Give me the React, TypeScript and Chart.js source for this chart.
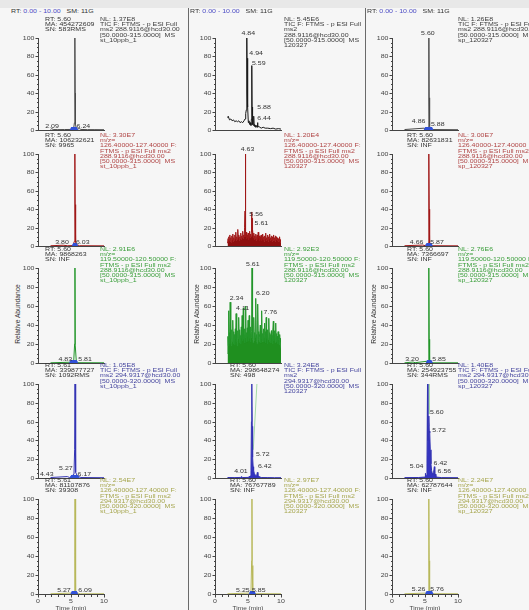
import React, { useEffect, useRef } from 'react';
import { Chart, registerables } from 'chart.js';
Chart.register(...registerables);

type Pt = [number, number];
type Peak = [string, number, number];

// ---------------- DATA ----------------
const Y_TICKS = [0, 20, 40, 60, 80, 100];
const X_TICKS = [0, 1, 2, 3, 4, 5, 6, 7, 8, 9, 10];
const X_LABELS = [0, 5, 10];

// column 1: st_10ppb_1
const c1r1Trace: Pt[] = [[1.9,0.6],[2.09,1.5],[2.3,0.5],[3,0.4],[4,0.5],[5,0.6],[5.4,1.5],[5.52,8],[5.57,45],[5.6,100],[5.63,40],[5.68,6],[5.8,2],[6.0,1],[6.24,1.6],[6.5,0.6],[7.5,0.4],[8.5,0.4],[10,0.3]];
const c1r2Trace: Pt[] = [[1.9,0.3],[3.8,0.8],[4.5,0.3],[5.3,0.5],[5.5,5],[5.57,50],[5.6,100],[5.63,45],[5.7,4],[5.9,0.8],[6.03,1],[6.3,0.3],[10,0.2]];
const c1r3Trace: Pt[] = [[1.9,0.2],[4.83,0.8],[5.4,0.5],[5.55,20],[5.6,100],[5.65,18],[5.81,1],[6.2,0.3],[10,0.2]];
const c1r4Trace: Pt[] = [[1.9,0.5],[4.43,1.5],[4.8,0.5],[5.27,3],[5.45,4],[5.55,30],[5.61,100],[5.66,25],[5.75,6],[5.9,3],[6.17,1.5],[6.5,0.5],[10,0.3]];
const c1r5Trace: Pt[] = [[1.9,0.2],[5.27,1],[5.5,3],[5.57,40],[5.61,100],[5.65,35],[5.75,2],[6.09,0.8],[6.4,0.2],[10,0.2]];

// column 2: 120327
const c2r1Trace: Pt[] = [[1.95,13],[2.0,15],[2.2,11],[2.4,12],[2.6,10],[2.8,11],[3.0,9],[3.2,10],[3.4,9],[3.6,10],[3.8,8],[4.0,9],[4.2,8],[4.4,10],[4.55,12],[4.65,18],[4.75,22],[4.8,35],[4.84,100],[4.88,40],[4.91,30],[4.94,78],[4.98,25],[5.05,8],[5.15,10],[5.25,6],[5.35,8],[5.45,5],[5.52,12],[5.56,20],[5.59,70],[5.62,25],[5.66,8],[5.72,6],[5.8,5],[5.85,10],[5.88,15],[5.92,6],[6.0,4],[6.1,5],[6.2,3],[6.3,4],[6.38,5],[6.44,8],[6.5,3],[6.6,4],[6.8,3],[7.0,2],[7.3,3],[7.6,2],[8.0,2],[8.4,1.5],[8.8,2],[9.2,1],[9.6,1.5],[10.0,1]];
const c2r2Trace: Pt[] = [[1.90,3],[1.98,8],[2.05,4],[2.12,10],[2.18,6],[2.25,12],[2.32,5],[2.40,9],[2.48,4],[2.55,11],[2.62,7],[2.70,13],[2.78,5],[2.85,9],[2.92,6],[3.00,12],[3.08,8],[3.15,15],[3.22,6],[3.30,10],[3.38,7],[3.45,18],[3.52,9],[3.60,12],[3.68,6],[3.75,10],[3.82,8],[3.90,14],[3.98,7],[4.05,11],[4.12,9],[4.20,16],[4.28,8],[4.35,12],[4.42,10],[4.48,20],[4.55,38],[4.59,12],[4.63,100],[4.67,10],[4.72,15],[4.80,8],[4.88,12],[4.95,9],[5.02,14],[5.10,7],[5.18,11],[5.25,16],[5.32,9],[5.40,13],[5.48,10],[5.56,37],[5.58,15],[5.61,30],[5.65,12],[5.72,18],[5.80,9],[5.88,14],[5.95,7],[6.02,11],[6.10,8],[6.18,13],[6.25,6],[6.32,10],[6.40,12],[6.48,7],[6.55,15],[6.62,9],[6.70,11],[6.78,6],[6.85,10],[6.92,8],[7.00,12],[7.08,6],[7.15,9],[7.22,13],[7.30,7],[7.38,10],[7.45,5],[7.52,11],[7.60,8],[7.68,14],[7.75,6],[7.82,9],[7.90,7],[7.98,12],[8.05,5],[8.12,10],[8.20,8],[8.28,13],[8.35,6],[8.42,9],[8.50,7],[8.58,11],[8.65,5],[8.72,10],[8.80,6],[8.88,12],[8.95,7],[9.02,9],[9.10,5],[9.18,11],[9.25,8],[9.32,10],[9.40,6],[9.48,9],[9.55,5],[9.62,8],[9.70,6],[9.78,10],[9.85,4],[9.92,7],[10.0,3]];
const c2r3Trace: Pt[] = [[1.90,10],[1.96,28],[2.02,18],[2.08,55],[2.13,22],[2.19,32],[2.25,20],[2.30,64],[2.36,25],[2.42,30],[2.48,18],[2.54,35],[2.60,22],[2.66,28],[2.72,45],[2.78,20],[2.84,33],[2.90,24],[2.96,30],[3.02,19],[3.08,36],[3.14,25],[3.20,52],[3.26,22],[3.32,30],[3.38,18],[3.44,34],[3.50,26],[3.56,31],[3.62,48],[3.68,21],[3.74,35],[3.80,24],[3.86,29],[3.92,20],[3.98,38],[4.04,26],[4.11,50],[4.17,23],[4.23,33],[4.29,58],[4.35,25],[4.41,30],[4.47,21],[4.53,36],[4.59,27],[4.65,60],[4.71,24],[4.77,32],[4.83,22],[4.89,37],[4.95,28],[5.01,45],[5.07,23],[5.13,34],[5.19,50],[5.25,26],[5.31,31],[5.37,22],[5.43,38],[5.49,27],[5.55,33],[5.61,100],[5.66,25],[5.72,30],[5.78,21],[5.84,36],[5.90,48],[5.96,24],[6.02,32],[6.08,27],[6.14,35],[6.20,68],[6.26,23],[6.32,30],[6.38,20],[6.44,37],[6.50,62],[6.56,25],[6.62,33],[6.68,22],[6.74,30],[6.80,28],[6.86,40],[6.92,21],[6.98,34],[7.04,25],[7.10,55],[7.16,23],[7.22,31],[7.28,26],[7.34,36],[7.40,22],[7.46,29],[7.52,42],[7.58,24],[7.64,33],[7.70,21],[7.76,48],[7.82,26],[7.88,30],[7.94,20],[8.00,35],[8.06,25],[8.12,28],[8.18,47],[8.24,22],[8.30,32],[8.36,24],[8.42,30],[8.48,21],[8.54,34],[8.60,26],[8.66,29],[8.72,20],[8.78,33],[8.84,44],[8.90,23],[8.96,30],[9.02,25],[9.08,34],[9.14,21],[9.20,42],[9.26,24],[9.32,31],[9.38,22],[9.44,28],[9.50,20],[9.56,33],[9.62,25],[9.68,29],[9.74,19],[9.80,30],[9.86,22],[9.92,26],[10.0,15]];
const c2r4Trace: Pt[] = [[1.9,0.5],[3.0,0.4],[3.9,0.6],[4.01,1.5],[4.2,0.5],[5.0,0.6],[5.35,2],[5.45,8],[5.52,60],[5.56,98],[5.6,100],[5.64,55],[5.68,35],[5.72,22],[5.78,12],[5.85,8],[5.95,5],[6.1,3],[6.3,2],[6.42,6],[6.5,2],[7.0,0.5],[8.0,0.4],[9.0,0.3],[10.0,0.3]];
const c2r4Overlay: Pt[] = [[5.8,30],[6.35,100]];
const c2r5Trace: Pt[] = [[1.9,0.2],[5.25,1],[5.45,2],[5.55,35],[5.6,100],[5.64,30],[5.72,2],[5.85,1],[6.2,0.3],[10,0.2]];

// column 3: sp_120327
const c3r1Trace: Pt[] = [[1.9,0.5],[4.86,2],[5.2,0.8],[5.5,3],[5.57,40],[5.6,100],[5.63,35],[5.7,4],[5.88,1.5],[6.2,0.5],[10,0.3]];
const c3r2Trace: Pt[] = [[1.9,0.3],[4.66,1],[5.0,0.4],[5.5,3],[5.56,45],[5.6,100],[5.64,40],[5.7,3],[5.87,1],[6.2,0.3],[10,0.2]];
const c3r3Trace: Pt[] = [[1.9,0.2],[3.2,1],[3.5,0.3],[5.5,2],[5.56,30],[5.6,100],[5.64,25],[5.7,2],[5.85,1],[6.2,0.2],[10,0.2]];
const c3r4Trace: Pt[] = [[1.9,0.4],[4.0,0.5],[5.0,1],[5.04,5],[5.1,1.5],[5.2,3],[5.3,15],[5.38,100],[5.44,40],[5.5,55],[5.56,60],[5.6,66],[5.65,50],[5.72,48],[5.8,30],[5.9,15],[6.0,8],[6.1,5],[6.2,4],[6.3,6],[6.42,12],[6.48,3],[6.56,4],[6.65,1],[7.5,0.4],[10,0.3]];
const c3r4Overlay: Pt[] = [[5.62,100],[5.64,68]];
const c3r5Trace: Pt[] = [[1.9,0.2],[5.26,1],[5.5,3],[5.56,40],[5.6,100],[5.64,35],[5.7,2],[5.76,1],[6.2,0.3],[10,0.2]];

// peak labels: [text, time at label's left edge, relative abundance at label's bottom]
const c1r1Peaks: Peak[] = [['2.09',1.1,1],['6.24',5.85,1]];
const c1r2Peaks: Peak[] = [['3.80',2.6,1],['6.03',5.75,1]];
const c1r3Peaks: Peak[] = [['4.83',3.1,1],['5.81',6.1,1]];
const c1r4Peaks: Peak[] = [['4.43',0.3,1],['5.27',3.2,7],['6.17',6.0,1]];
const c1r5Peaks: Peak[] = [['5.27',2.9,1],['6.09',6.1,1]];
const c2r1Peaks: Peak[] = [['4.84',4.0,102],['4.94',5.2,80],['5.59',5.6,69],['5.88',6.4,21],['6.44',6.4,10]];
const c2r2Peaks: Peak[] = [['4.63',3.9,102],['5.56',5.2,31],['5.61',6.0,22]];
const c2r3Peaks: Peak[] = [['5.61',4.7,101],['2.34',2.24,65],['4.11',3.2,55],['6.20',6.2,70],['7.76',7.36,50]];
const c2r4Peaks: Peak[] = [['5.72',6.2,22],['6.42',6.5,9.5],['4.01',2.9,3.5]];
const c2r5Peaks: Peak[] = [['5.25',3.2,1],['5.85',5.6,1]];
const c3r1Peaks: Peak[] = [['5.60',4.4,102],['4.86',3.0,6.5],['5.88',5.9,2.5]];
const c3r2Peaks: Peak[] = [['4.66',2.7,1],['5.87',5.8,1]];
const c3r3Peaks: Peak[] = [['3.20',2.0,1],['5.85',6.1,1]];
const c3r4Peaks: Peak[] = [['5.60',5.76,67],['5.72',6.1,48],['5.04',2.7,9.5],['6.42',6.3,13],['6.56',6.9,3.5]];
const c3r5Peaks: Peak[] = [['5.26',3.0,1.5],['5.76',5.8,1.5]];

// integrated peak ranges [start, end] (min)
const c1r1Area = [4.8, 6.1];
const c1r2Area = [5.1, 6.1];
const c1r3Area = [4.7, 6.1];
const c1r4Area = [4.8, 6.3];
const c1r5Area = [4.9, 6.1];
const c2r5Area = [5.1, 6.2];
const c3r1Area = [4.8, 6.3];
const c3r2Area = [5.0, 6.2];
const c3r3Area = [5.1, 6.2];
const c3r5Area = [5.0, 6.3];

const HEADER = ['RT: ', '0.00 - 10.00', '   SM: 11G'];
const Y_TITLE = 'Relative Abundance';
const X_TITLE = 'Time (min)';

// ---------------- STYLE / LAYOUT ----------------
const COL_LEFT = [0, 188, 365];
const COL_W = [188, 177, 164];
const PLOT_LEFT = [38, 215, 392];
const PLOT_W = 66;
const ROW_Y100 = [38, 154, 268, 384, 499];
const ROW_Y0 = [130, 246, 363, 478, 594];
const INFO_X = [45, 230, 407];
const NL_X = [100, 284, 458];
const HEADER_X = [11, 190, 367];
const RA_X = [17, 196, 373];
const ROW_LINE = ['#4a4a4a', '#a01818', '#23962a', '#3434b4', '#b8b85a'];
const ROW_TEXT = ['#3c3c3c', '#b04545', '#3a9e3a', '#45459e', '#a6a64e'];
const FILL_COLOR = ['#333333', '#8e0f0f', '#1f8f1f', '#3434c0', '#b8b85a'];
const AXIS = '#444';
const TXT = '#333';
const FONT_FAMILY = '"Liberation Sans", Arial, sans-serif';
const SQ = 0.78;
const YW = 30, PAD_T = 12, PAD_R = 10, PAD_B = 3, XH = 17;

interface PanelDef {
  col: number; row: number; trace: Pt[]; peaks: Peak[]; area?: number[];
  overlay?: Pt[]; fill?: boolean; line?: string; info: string[]; nl: string[];
}

const S1 = 'st_10ppb_1', S2 = '120327', S3 = 'sp_120327';
const R315 = '[50.0000-315.0000]  MS', R320 = '[50.0000-320.0000]  MS';

const PANELS: PanelDef[] = [
  { col: 0, row: 0, trace: c1r1Trace, peaks: c1r1Peaks, area: c1r1Area, info: ['RT: 5.60', 'MA: 454272609', 'SN: 583RMS'], nl: ['NL: 1.37E8', 'TIC F: FTMS - p ESI Full', 'ms2 288.9116@hcd30.00', R315, S1] },
  { col: 0, row: 1, trace: c1r2Trace, peaks: c1r2Peaks, area: c1r2Area, info: ['RT: 5.60', 'MA: 106232621', 'SN: 9965'], nl: ['NL: 3.30E7', 'm/z=', '126.40000-127.40000 F:', 'FTMS - p ESI Full ms2', '288.9116@hcd30.00', R315, S1] },
  { col: 0, row: 2, trace: c1r3Trace, peaks: c1r3Peaks, area: c1r3Area, info: ['RT: 5.60', 'MA: 9868263', 'SN: INF'], nl: ['NL: 2.91E6', 'm/z=', '119.50000-120.50000 F:', 'FTMS - p ESI Full ms2', '288.9116@hcd30.00', R315, S1] },
  { col: 0, row: 3, trace: c1r4Trace, peaks: c1r4Peaks, area: c1r4Area, info: ['RT: 5.61', 'MA: 339877727', 'SN: 1092RMS'], nl: ['NL: 1.05E8', 'TIC F: FTMS - p ESI Full', 'ms2 294.9317@hcd30.00', R320, S1] },
  { col: 0, row: 4, trace: c1r5Trace, peaks: c1r5Peaks, area: c1r5Area, info: ['RT: 5.61', 'MA: 81107876', 'SN: 39308'], nl: ['NL: 2.54E7', 'm/z=', '126.40000-127.40000 F:', 'FTMS - p ESI Full ms2', '294.9317@hcd30.00', R320, S1] },
  { col: 1, row: 0, trace: c2r1Trace, peaks: c2r1Peaks, line: '#1a1a1a', info: [], nl: ['NL: 5.45E6', 'TIC F: FTMS - p ESI Full', 'ms2', '288.9116@hcd30.00', R315, S2] },
  { col: 1, row: 1, trace: c2r2Trace, peaks: c2r2Peaks, fill: true, info: [], nl: ['NL: 1.20E4', 'm/z=', '126.40000-127.40000 F:', 'FTMS - p ESI Full ms2', '288.9116@hcd30.00', R315, S2] },
  { col: 1, row: 2, trace: c2r3Trace, peaks: c2r3Peaks, fill: true, info: [], nl: ['NL: 2.92E3', 'm/z=', '119.50000-120.50000 F:', 'FTMS - p ESI Full ms2', '288.9116@hcd30.00', R315, S2] },
  { col: 1, row: 3, trace: c2r4Trace, peaks: c2r4Peaks, fill: true, overlay: c2r4Overlay, info: ['RT: 5.60', 'MA: 298648274', 'SN: 498'], nl: ['NL: 3.24E8', 'TIC F: FTMS - p ESI Full', 'ms2', '294.9317@hcd30.00', R320, S2] },
  { col: 1, row: 4, trace: c2r5Trace, peaks: c2r5Peaks, area: c2r5Area, info: ['RT: 5.60', 'MA: 76767789', 'SN: INF'], nl: ['NL: 2.97E7', 'm/z=', '126.40000-127.40000 F:', 'FTMS - p ESI Full ms2', '294.9317@hcd30.00', R320, S2] },
  { col: 2, row: 0, trace: c3r1Trace, peaks: c3r1Peaks, area: c3r1Area, info: [], nl: ['NL: 1.26E8', 'TIC F: FTMS - p ESI Full', 'ms2 288.9116@hcd30.00', R315, S3] },
  { col: 2, row: 1, trace: c3r2Trace, peaks: c3r2Peaks, area: c3r2Area, info: ['RT: 5.60', 'MA: 82631831', 'SN: INF'], nl: ['NL: 3.00E7', 'm/z=', '126.40000-127.40000 F:', 'FTMS - p ESI Full ms2', '288.9116@hcd30.00', R315, S3] },
  { col: 2, row: 2, trace: c3r3Trace, peaks: c3r3Peaks, area: c3r3Area, info: ['RT: 5.60', 'MA: 7366697', 'SN: INF'], nl: ['NL: 2.76E6', 'm/z=', '119.50000-120.50000 F:', 'FTMS - p ESI Full ms2', '288.9116@hcd30.00', R315, S3] },
  { col: 2, row: 3, trace: c3r4Trace, peaks: c3r4Peaks, fill: true, overlay: c3r4Overlay, info: ['RT: 5.60', 'MA: 254923755', 'SN: 344RMS'], nl: ['NL: 1.40E8', 'TIC F: FTMS - p ESI Full', 'ms2 294.9317@hcd30.00', R320, S3] },
  { col: 2, row: 4, trace: c3r5Trace, peaks: c3r5Peaks, area: c3r5Area, info: ['RT: 5.60', 'MA: 62787644', 'SN: INF'], nl: ['NL: 2.24E7', 'm/z=', '126.40000-127.40000 F:', 'FTMS - p ESI Full ms2', '294.9317@hcd30.00', R320, S3] },
];

function sqText(ctx: CanvasRenderingContext2D, text: string, x: number, y: number, align: CanvasTextAlign, base: CanvasTextBaseline) {
  ctx.save();
  ctx.translate(x, y);
  ctx.scale(1, SQ);
  ctx.textAlign = align;
  ctx.textBaseline = base;
  ctx.fillText(text, 0, 0);
  ctx.restore();
}

function makePlugin(p: PanelDef) {
  const last = p.row === 4;
  return {
    id: 'extras',
    afterDraw(chart: any) {
      const { ctx, scales } = chart;
      const xs = scales.x, ys = scales.y;
      const L = Math.round(xs.left) + 0.5;
      const B = Math.round(ys.bottom) + 0.5;
      ctx.save();
      ctx.strokeStyle = AXIS;
      ctx.lineWidth = 1;
      for (let v = 0; v <= 100; v += 5) {
        const py = Math.round(ys.getPixelForValue(v)) + 0.5;
        const len = v % 20 === 0 ? 3 : 1.5;
        ctx.beginPath(); ctx.moveTo(L - len, py); ctx.lineTo(L, py); ctx.stroke();
      }
      ctx.fillStyle = AXIS;
      ctx.font = `7px ${FONT_FAMILY}`;
      for (const v of Y_TICKS) sqText(ctx, String(v), L - 4, ys.getPixelForValue(v) + 0.5, 'right', 'middle');
      if (last) {
        for (const t of X_TICKS) {
          const px = Math.round(xs.getPixelForValue(t)) + 0.5;
          ctx.beginPath(); ctx.moveTo(px, B); ctx.lineTo(px, B + (t % 5 === 0 ? 3 : 2.5)); ctx.stroke();
        }
        for (const t of X_LABELS) sqText(ctx, String(t), xs.getPixelForValue(t), B + 7, 'center', 'middle');
        ctx.font = `6.5px ${FONT_FAMILY}`;
        sqText(ctx, X_TITLE, xs.getPixelForValue(5), B + 14, 'center', 'middle');
      }
      // integrated peak marker
      if (p.area) {
        const a = xs.getPixelForValue(p.area[0]);
        const b = xs.getPixelForValue(p.area[1]);
        const y0 = ys.bottom;
        ctx.fillStyle = '#3050d8';
        ctx.beginPath();
        ctx.moveTo(a, y0);
        ctx.lineTo(a + 1.5, y0 - 3);
        ctx.lineTo(b - 1.5, y0 - 3);
        ctx.lineTo(b, y0);
        ctx.closePath();
        ctx.fill();
      }
      // peak labels
      ctx.fillStyle = TXT;
      ctx.font = `7px ${FONT_FAMILY}`;
      for (const [txt, t, v] of p.peaks) {
        sqText(ctx, txt, xs.getPixelForValue(t), ys.getPixelForValue(v), 'left', 'bottom');
      }
      ctx.restore();
    },
  };
}

function Panel({ p }: { p: PanelDef }) {
  const ref = useRef<HTMLCanvasElement>(null);
  const last = p.row === 4;
  const h = ROW_Y0[p.row] - ROW_Y100[p.row];
  const cw = YW + PLOT_W + PAD_R;
  const ch = PAD_T + h + (last ? XH : PAD_B);
  useEffect(() => {
    const canvas = ref.current!;
    const lineColor = p.line || ROW_LINE[p.row];
    const datasets: any[] = [{
      data: p.trace.map(([x, y]) => ({ x, y })),
      borderColor: lineColor,
      backgroundColor: p.fill ? FILL_COLOR[p.row] : 'transparent',
      fill: p.fill ? 'origin' : false,
      borderWidth: 1,
      pointRadius: 0,
      tension: 0,
    }];
    if (p.overlay) {
      datasets.push({
        data: p.overlay.map(([x, y]) => ({ x, y })),
        borderColor: '#a6dba6', borderWidth: 1, pointRadius: 0, fill: false,
      });
    }
    const chart = new Chart(canvas, {
      type: 'line',
      data: { datasets },
      options: {
        animation: false,
        responsive: false,
        devicePixelRatio: 1,
        events: [],
        layout: { padding: { left: 0, right: PAD_R, top: PAD_T, bottom: last ? 0 : PAD_B } },
        plugins: { legend: { display: false }, tooltip: { enabled: false }, title: { display: false } },
        scales: {
          x: {
            type: 'linear', min: 0, max: 10,
            ticks: { display: false }, grid: { display: false },
            border: { display: true, color: AXIS, width: 1 },
            afterFit: (s: any) => { s.height = last ? XH : 0; },
          },
          y: {
            type: 'linear', min: 0, max: 100,
            ticks: { display: false }, grid: { display: false },
            border: { display: true, color: AXIS, width: 1 },
            afterFit: (s: any) => { s.width = YW; },
          },
        },
      } as any,
      plugins: [makePlugin(p)],
    });
    return () => chart.destroy();
  }, [p]);
  return (
    <canvas
      ref={ref}
      width={cw}
      height={ch}
      style={{ position: 'absolute', left: PLOT_LEFT[p.col] - COL_LEFT[p.col] - YW, top: ROW_Y100[p.row] - PAD_T, width: cw, height: ch }}
    />
  );
}

const LH = 6.67;

function TextBlock({ x, y, lines, color }: { x: number; y: number; lines: string[]; color: string }) {
  return (
    <div style={{
      position: 'absolute', left: x, top: y, transform: `scaleY(${SQ})`, transformOrigin: '0 0',
      fontSize: 7, lineHeight: `${LH}px`, color, whiteSpace: 'pre', fontFamily: FONT_FAMILY,
    }}>
      {lines.map((l, i) => <div key={i}>{l}</div>)}
    </div>
  );
}

export default function App() {
  return (
    <div style={{ position: 'fixed', left: 0, top: 0, width: 529, height: 610, overflow: 'hidden', background: '#f6f6f6', fontFamily: FONT_FAMILY }}>
      <div style={{ position: 'absolute', left: 0, top: 0, width: 529, height: 8, background: '#e8e8e8' }} />
      {[0, 1, 2].map((c) => (
        <div key={c} style={{ position: 'absolute', left: COL_LEFT[c], top: 0, width: COL_W[c], height: 610, overflow: 'hidden' }}>
          <div style={{
            position: 'absolute', left: HEADER_X[c] - COL_LEFT[c], top: 12 - LH * SQ / 2, transform: `scaleY(${SQ})`, transformOrigin: '0 0',
            fontSize: 7, lineHeight: `${LH}px`, whiteSpace: 'pre', color: TXT,
          }}>
            {HEADER[0]}<span style={{ color: '#4b4bc4' }}>{HEADER[1]}</span>{HEADER[2]}
          </div>
          <div style={{ position: 'absolute', left: RA_X[c] - COL_LEFT[c], top: 314, width: 0, height: 0 }}>
            <div style={{ position: 'absolute', left: 0, top: 0, transform: 'translate(-50%, -50%) rotate(-90deg)', fontSize: 6.7, whiteSpace: 'nowrap', color: TXT, lineHeight: '7px' }}>
              {Y_TITLE}
            </div>
          </div>
          {PANELS.filter((p) => p.col === c).map((p) => (
            <React.Fragment key={p.row}>
              <Panel p={p} />
              {p.info.length > 0 && (
                <TextBlock x={INFO_X[c] - COL_LEFT[c]} y={ROW_Y100[p.row] - 18.5 - LH * SQ / 2} lines={p.info} color={TXT} />
              )}
              <TextBlock x={NL_X[c] - COL_LEFT[c]} y={ROW_Y100[p.row] - 18.5 - LH * SQ / 2} lines={p.nl} color={p.row === 0 ? '#3c3c3c' : ROW_TEXT[p.row]} />
            </React.Fragment>
          ))}
        </div>
      ))}
      <div style={{ position: 'absolute', left: 188, top: 8, width: 1, height: 602, background: '#6a6a6a' }} />
      <div style={{ position: 'absolute', left: 365, top: 8, width: 1, height: 602, background: '#6a6a6a' }} />
    </div>
  );
}
